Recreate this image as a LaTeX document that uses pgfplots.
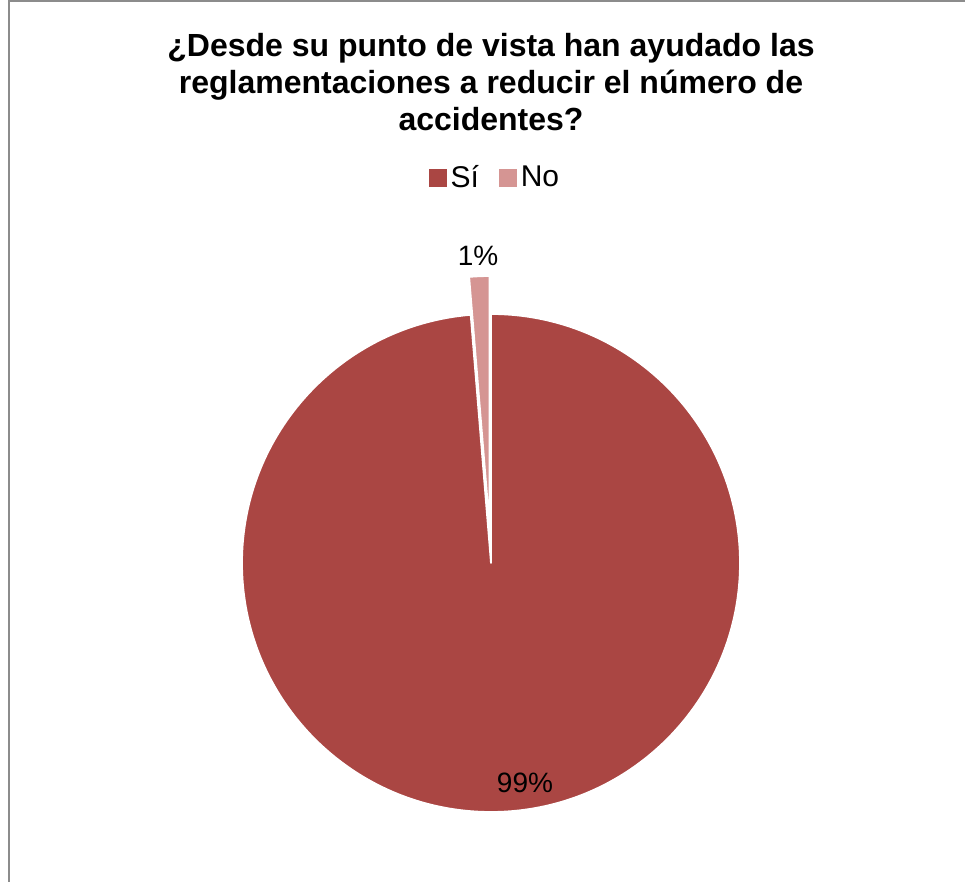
\documentclass[border=0pt]{standalone}
\usepackage{fontspec}
\setmainfont{Liberation Sans}
\usepackage{pgfplots}
\usepackage{pgfplotstable}
\pgfplotsset{compat=1.18}
\usetikzlibrary{calc}
\definecolor{si}{HTML}{AA4643}
\definecolor{no}{HTML}{D59593}
\definecolor{frame}{HTML}{8C8C8C}

\pgfplotstableread{
label value
Si 98.7
No 1.3
}\piedata
\pgfplotstablegetelem{0}{value}\of\piedata\let\vsi\pgfplotsretval
\pgfplotstablegetelem{1}{value}\of\piedata\let\vno\pgfplotsretval
\pgfmathsetmacro{\aE}{90-3.6*\vsi}
\pgfmathsetmacro{\aN}{90+3.6*\vno}
\pgfmathsetmacro{\aM}{90+1.8*\vno}

\begin{document}%
\begin{tikzpicture}
\begin{axis}[
  width=482.5pt, height=441pt, scale only axis,
  xmin=0, xmax=965, ymin=0, ymax=882,
  axis lines=none, ticks=none, clip=false,
  /pgf/number format/assume math mode=true,
  legend style={at={(axis cs:496,704)}, anchor=center, draw=none, fill=none,
    legend columns=2, font=\fontsize{15}{17}\selectfont,
    /tikz/every even column/.style={column sep=8pt},
    inner sep=0pt},
]
\addlegendimage{legend image code/.code={\fill[si] (0pt,-4pt) rectangle (8.5pt,4.5pt);}}
\addlegendentry{Sí}
\addlegendimage{legend image code/.code={\fill[no] (0pt,-4pt) rectangle (8.5pt,4.5pt);}}
\addlegendentry{No}

% frame
\draw[frame, line width=0.8pt] (axis cs:9,0) -- (axis cs:9,881) -- (axis cs:965,881);

% slices
\fill[si, draw=white, line width=0.9pt, line join=round] (axis cs:491,319) -- ++(90:124.5pt)
  arc[start angle=90, end angle=\aE, radius=124.5pt] -- cycle;
\fill[no, draw=white, line width=0.9pt, line join=round] ($(axis cs:491,319)+(\aM:19pt)$) -- ++(90:124.5pt)
  arc[start angle=90, end angle=\aN, radius=124.5pt] -- cycle;

% data labels
\node[font=\fontsize{14}{16}\selectfont] at (axis cs:478,626) {\pgfmathprintnumber[fixed,precision=0,assume math mode=true]{\vno}\%};
\node[font=\fontsize{14}{16}\selectfont] at (axis cs:525,99) {\pgfmathprintnumber[fixed,precision=0,assume math mode=true]{\vsi}\%};

% title
\node[font=\bfseries\fontsize{16}{18.5}\selectfont, align=center] at (axis cs:491,800)
  {¿Desde su punto de vista han ayudado las\\reglamentaciones a reducir el número de\\accidentes?};
\end{axis}
\pgfresetboundingbox
\path[use as bounding box] (current axis.south west) rectangle (current axis.north east);
\end{tikzpicture}%
\end{document}
